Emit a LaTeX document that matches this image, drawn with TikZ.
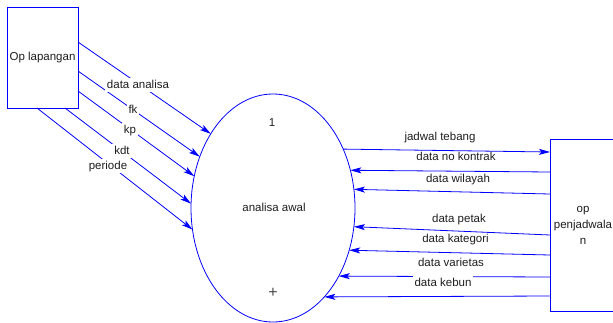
\documentclass[tikz,border=0pt]{standalone}
\usepackage{fontspec}
\setmainfont{Liberation Sans}
\usetikzlibrary{arrows.meta,shapes.geometric}
\definecolor{flow}{RGB}{0,0,255}
\definecolor{ink}{RGB}{30,30,30}
\tikzset{
  entity/.style={draw=flow, line width=0.8pt, fill=white, outer sep=0pt, inner sep=0pt,
    text=ink, font=\fontsize{11.5}{16}\selectfont, align=center},
  process/.style={ellipse, draw=flow, line width=0.8pt, outer sep=0pt, inner sep=0pt,
    minimum width=164pt, minimum height=228pt},
  txt/.style={text=ink, font=\fontsize{11.5}{14}\selectfont, inner sep=1pt},
  lbl/.style={txt, text height=8pt, text depth=2pt},
  mlbl/.style={lbl, fill=white, inner sep=2pt},
  flowline/.style={draw=flow, line width=0.8pt,
    -{Stealth[length=11pt, width=6pt, inset=2.5pt]}}
}
\begin{document}
\begin{tikzpicture}[x=1pt, y=-1pt]
\useasboundingbox (0,0) rectangle (613,322);

% external entities
\node[entity, minimum width=71pt, minimum height=101pt] (opl) at (42.5,57.5) {Op lapangan};
\node[entity, minimum width=66pt, minimum height=172pt] (opp) at (583,225) {op\\penjadwala\\n};

% process
\node[process] (p1) at (273,208) {};
\node[txt] (pnum) at (272,123) {1};
\node[txt] (pname) at (274,207) {analisa awal};
\node[txt, text=ink!80, font=\fontsize{16}{16}\selectfont] (pplus) at (273,293) {+};

% flows from Op lapangan
\draw[flowline] (opl.east |- 0,42)  -- (p1.130);
\draw[flowline] (opl.east |- 0,71)  -- (p1.145);
\draw[flowline] (opl.east |- 0,91)  -- (p1.158);
\draw[flowline] (opl.south -| 65,0) -- (p1.177);
\draw[flowline] (opl.south -| 37,0) -- (p1.195);

\node[mlbl] (l1) at (138,85)  {data analisa};
\node[mlbl] (l2) at (133,110) {fk};
\node[mlbl] (l3) at (130,130) {kp};
\node[mlbl] (l4) at (122,151) {kdt};
\node[mlbl] (l5) at (108,166) {periode};

% flows with op penjadwalan
\draw[flowline] (p1.40.7) -- (opp.west |- 0,152);
\draw[flowline] (opp.west |- 0,172) -- (p1.26.9);
\draw[flowline] (opp.west |- 0,194) -- (p1.13.9);
\draw[flowline] (opp.west |- 0,235) -- (p1.-13.9);
\draw[flowline] (opp.west |- 0,255) -- (p1.-29.5);
\draw[flowline] (opp.west |- 0,277) -- (p1.-46.6);
\draw[flowline] (opp.west |- 0,296) -- (p1.-60.1);

\node[lbl] (r1) at (440,137) {jadwal tebang};
\node[lbl] (r2) at (456,157) {data no kontrak};
\node[lbl] (r3) at (458,179) {data wilayah};
\node[lbl] (r4) at (459,219) {data petak};
\node[lbl] (r5) at (455.5,239) {data kategori};
\node[lbl] (r6) at (451,263) {data varietas};
\node[mlbl] (r7) at (443,283) {data kebun};
\end{tikzpicture}
\end{document}
